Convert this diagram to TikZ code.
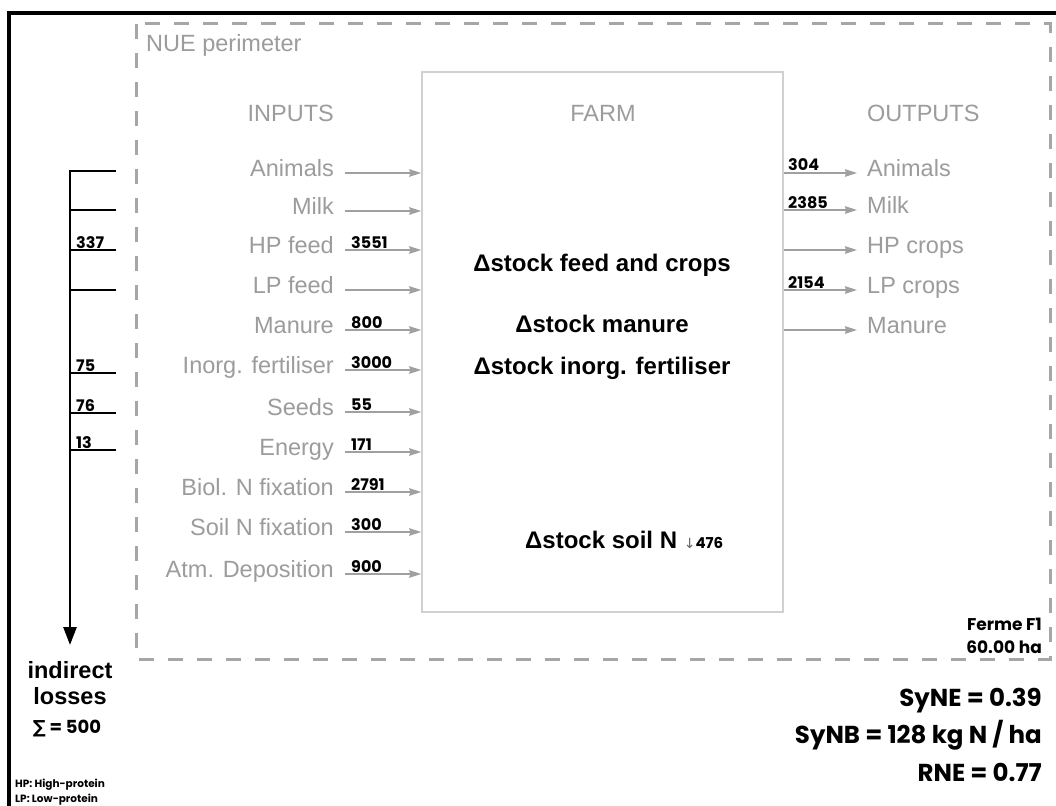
\documentclass[tikz,border=0pt]{standalone}
\usepackage{fontspec}
\setmainfont{Liberation Sans}
\newfontfamily\numf{Poppins}
\newfontfamily\djv{DejaVu Sans}
\usetikzlibrary{arrows.meta}
\definecolor{txtgray}{HTML}{9C9C9C}
\definecolor{arrgray}{HTML}{A0A0A0}
\definecolor{boxgray}{HTML}{D0D0D0}
\definecolor{dashgray}{HTML}{A6A6A6}
\begin{document}
\begin{tikzpicture}[x=1pt,y=-1pt,
  glabel/.style={text=txtgray, font=\fontsize{23.5}{28}\selectfont, inner sep=0pt},
  garrow/.style={draw=arrgray, line width=1.3pt, -{Stealth[length=12pt,width=7.5pt,inset=1pt]}},
  numlab/.style={font=\numf\bfseries\fontsize{16}{19}\selectfont, inner sep=0pt},
  stocklab/.style={font=\bfseries\fontsize{24}{28}\selectfont, inner sep=0pt},
  bigres/.style={font=\numf\bfseries\fontsize{24.5}{28}\selectfont, inner sep=0pt, anchor=base east},
  blk/.style={draw=black, line width=2.6pt},
  tick/.style={draw=black, line width=2.6pt}]
\clip (0,0) rectangle (1056,805);
\fill[white] (0,0) rectangle (1056,805);
% outer frame
\draw[line width=4pt] (1070,13) -- (9,13) -- (9,820);
% NUE perimeter
\draw[dashgray, line width=3pt, dash pattern=on 15pt off 14pt] (136,24) rectangle (1050,659);
\node[glabel, anchor=base west] (nue) at (146,52) {NUE perimeter};
% farm box
\node[draw=boxgray, line width=1.5pt, minimum width=361pt, minimum height=540pt, inner sep=0pt] (farm) at (602.5,342) {};
% headers
\node[glabel, anchor=base east] (hin) at (334,122) {INPUTS};
\node[glabel, anchor=base] (hfarm) at (603,122) {FARM};
\node[glabel, anchor=base west] (hout) at (867,122) {OUTPUTS};
% inputs
\foreach \lab/\num/\yy [count=\i] in {Animals//173, Milk//211, HP feed/3551/250, LP feed//290, Manure/800/330, Inorg. fertiliser/3000/370, Seeds/55/412, Energy/171/452, Biol. N fixation/2791/492, Soil N fixation/300/532, Atm. Deposition/900/574}{
  \node[glabel, anchor=base east] (in\i) at (334,\yy+3) {\lab};
  \coordinate (is\i) at (345,\yy);
  \draw[garrow] (is\i) -- (is\i -| farm.west);
  \node[numlab, anchor=base west] (inum\i) at (351,\yy-2) {\num};
}
% outputs
\foreach \lab/\num/\yy [count=\i] in {Animals/304/173, Milk/2385/210, HP crops//250, LP crops/2154/290, Manure//330}{
  \coordinate (oe\i) at (857,\yy);
  \draw[garrow] (oe\i -| farm.east) -- (oe\i);
  \node[glabel, anchor=base west] (out\i) at (867,\yy+3) {\lab};
  \node[numlab, anchor=base west] (onum\i) at (788,\yy-2) {\num};
}
% stock texts
\node[stocklab, anchor=base] (s1) at (602,271) {Δstock feed and crops};
\node[stocklab, anchor=base] (s2) at (602,332) {Δstock manure};
\node[stocklab, anchor=base] (s3) at (602,374) {Δstock inorg. fertiliser};
\node[stocklab, anchor=base west] (s4) at (525,548) {Δstock soil N {\djv\mdseries\fontsize{14}{16}\selectfont\textcolor{black!60}{↓}}{\numf\bfseries\fontsize{15}{16}\selectfont 476}};
% indirect losses bracket
\coordinate (btick1) at (116,171);
\coordinate (bcorner) at (70,171);
\coordinate (bend) at (70,645);
\draw[blk, -{Triangle[length=18pt,width=13pt]}] (btick1) -- (bcorner) -- (bend);
\foreach \yy [count=\i] in {210,250,290,373,413,450}{
  \coordinate (ta\i) at (70,\yy);
  \coordinate (tb\i) at (116,\yy);
  \draw[tick] (ta\i) -- (tb\i);
}
\node[numlab, anchor=base west] (l337) at (76,248) {337};
\node[numlab, anchor=base west] (l75) at (76,371) {75};
\node[numlab, anchor=base west] (l76) at (76,411) {76};
\node[numlab, anchor=base west] (l13) at (76,448) {13};
\node[font=\bfseries\fontsize{23.5}{28}\selectfont, anchor=base, inner sep=0pt] (ind1) at (70,678) {indirect};
\node[font=\bfseries\fontsize{23.5}{28}\selectfont, anchor=base, inner sep=0pt] (ind2) at (70,704) {losses};
\node[font=\numf\bfseries\fontsize{18}{20}\selectfont, anchor=base, inner sep=0pt] (sum) at (67,733) {{\djv\bfseries ∑} = 500};
\node[font=\numf\bfseries\fontsize{10.5}{12}\selectfont, anchor=base west, inner sep=0pt] (hp) at (15,787) {HP: High-protein};
\node[font=\numf\bfseries\fontsize{10.5}{12}\selectfont, anchor=base west, inner sep=0pt] (lp) at (15,802) {LP: Low-protein};
% farm info
\node[font=\numf\bfseries\fontsize{17}{20}\selectfont, anchor=base east, inner sep=0pt] (ferme) at (1042,630) {Ferme F1};
\node[font=\numf\bfseries\fontsize{17}{20}\selectfont, anchor=base east, inner sep=0pt] (ha) at (1042,653) {60.00 ha};
\node[bigres] (syne) at (1042,706) {SyNE = 0.39};
\node[bigres] (synb) at (1042,743) {SyNB = 128 kg N / ha};
\node[bigres] (rne) at (1042,781) {RNE = 0.77};
\end{tikzpicture}
\end{document}
